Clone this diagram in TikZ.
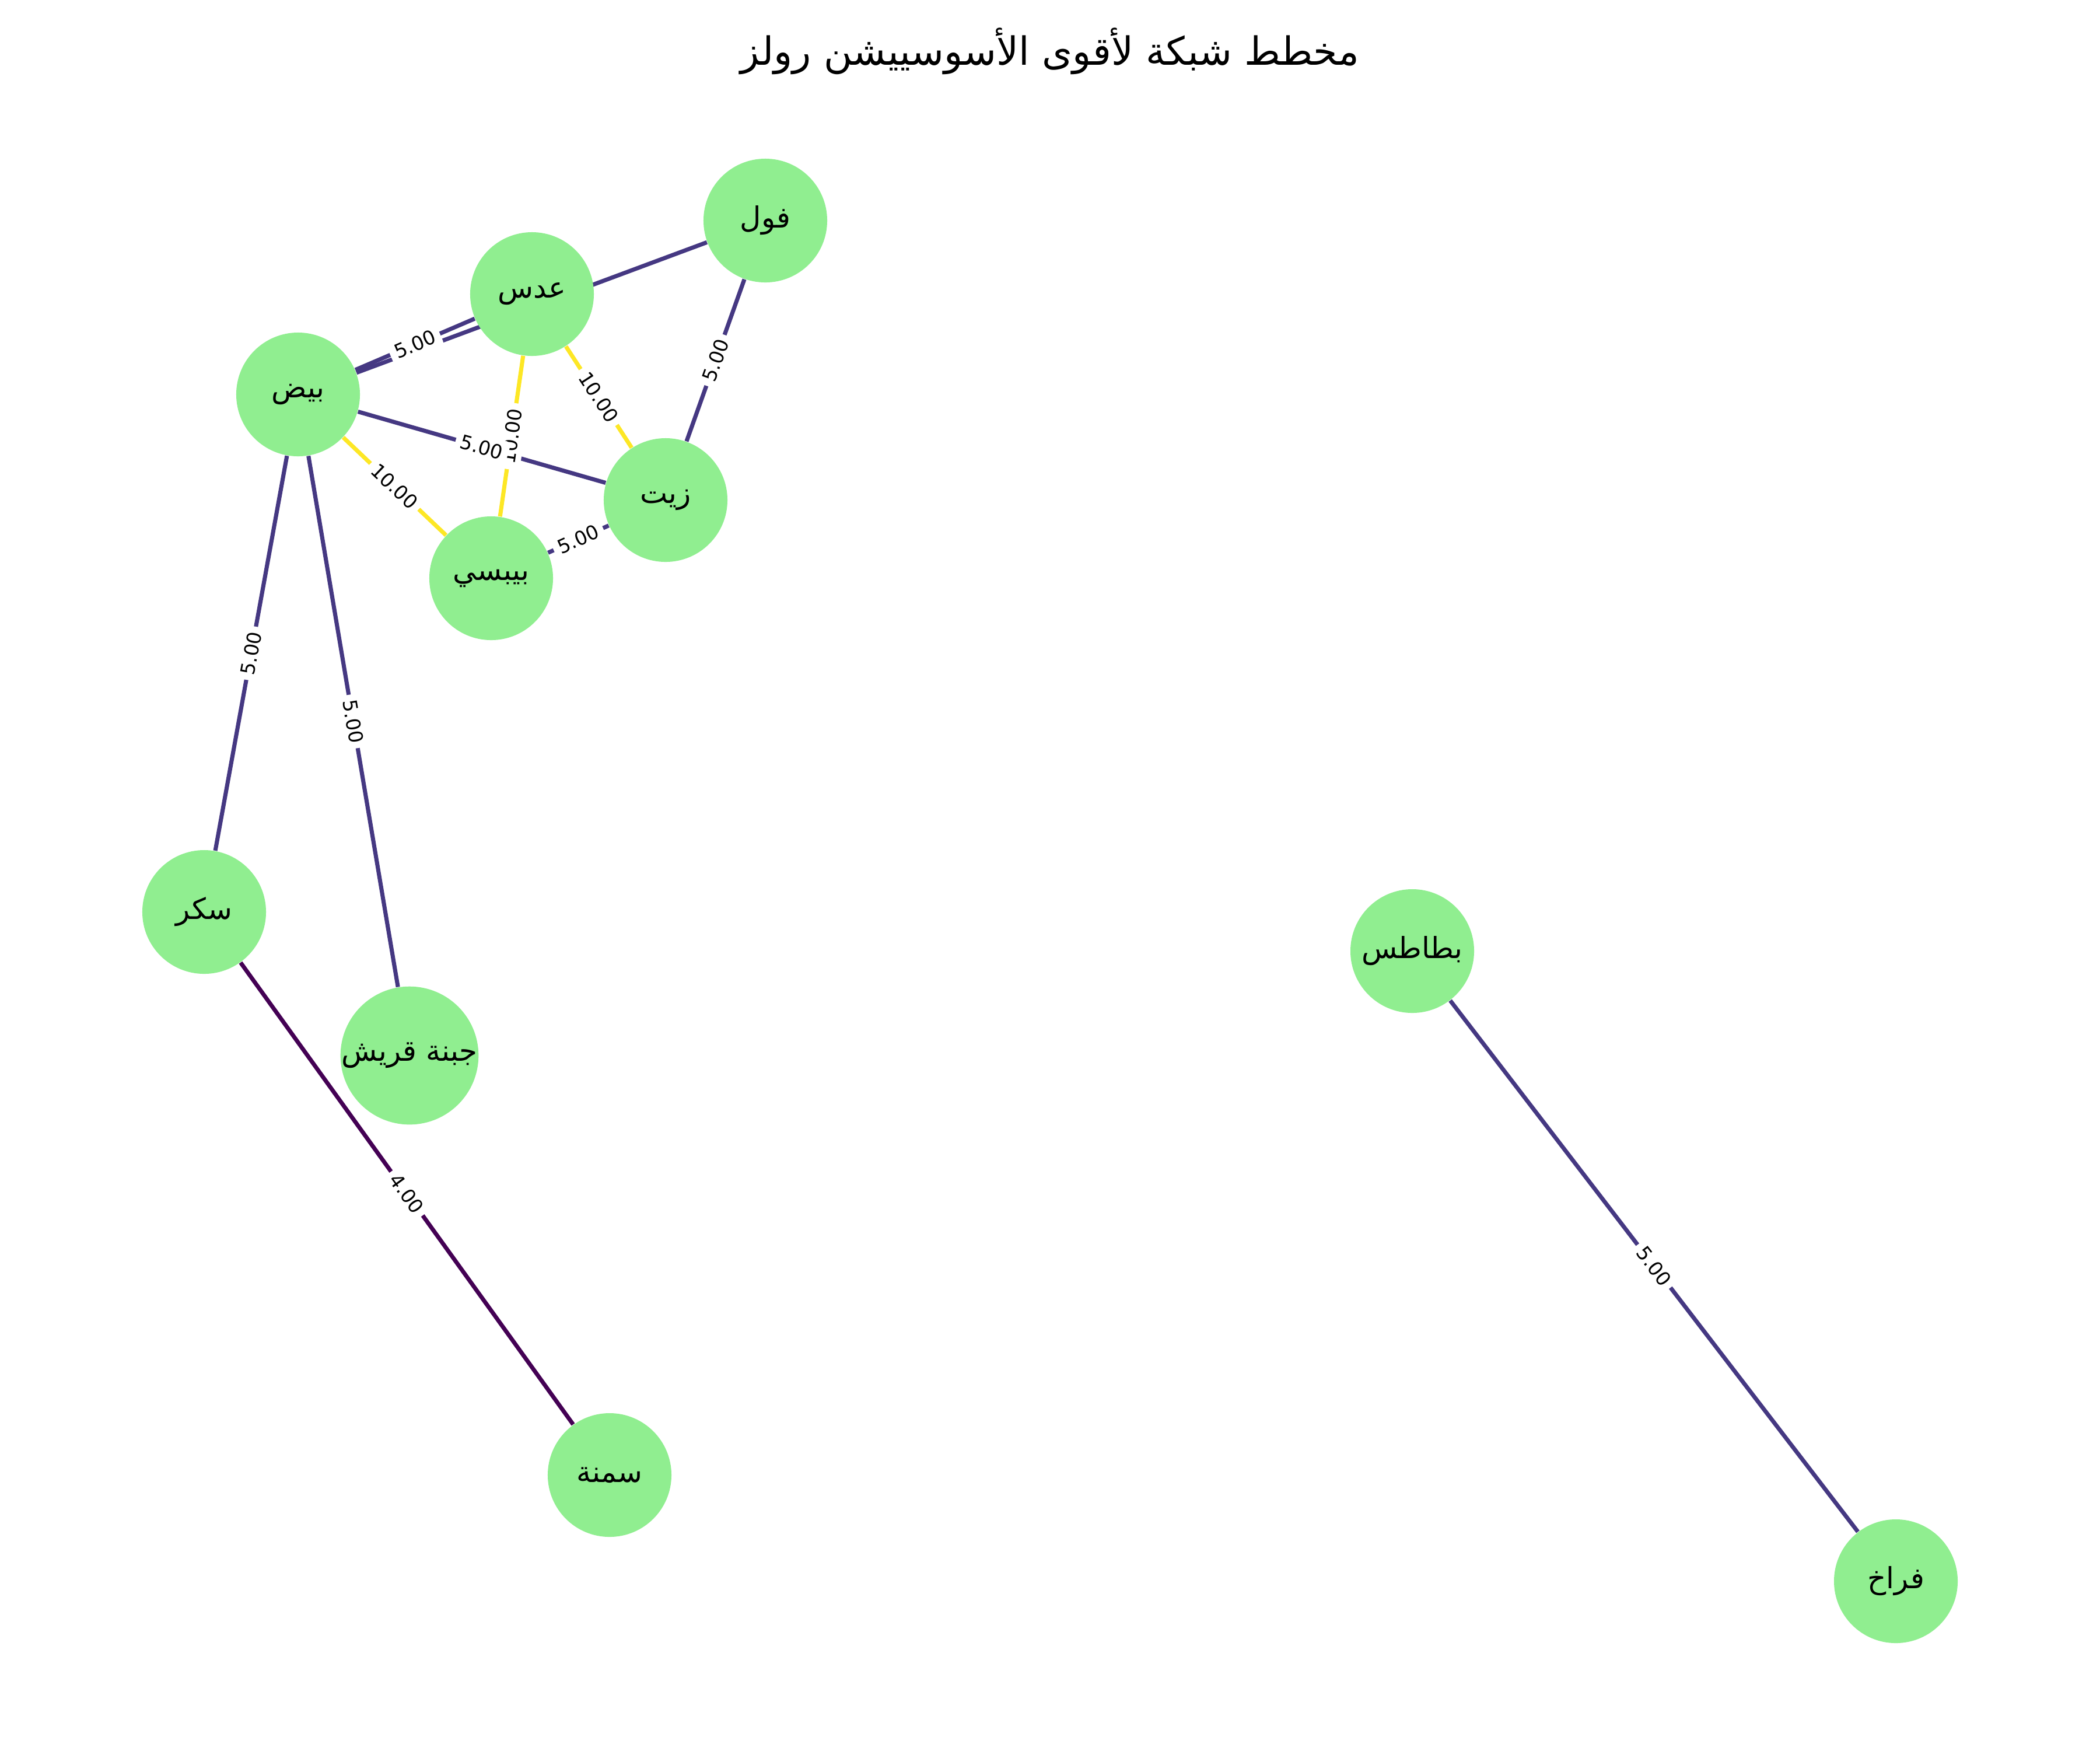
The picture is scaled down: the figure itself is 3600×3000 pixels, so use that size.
\documentclass[tikz,border=0pt]{standalone}
\usepackage{fontspec}
\setmainfont{DejaVu Sans}
\newfontfamily\arabicfont[Script=Arabic]{DejaVu Sans}
\TeXXeTstate=1
\definecolor{nodegreen}{HTML}{90EE90}
\definecolor{vblue}{HTML}{453882}
\definecolor{vyellow}{HTML}{FDE725}
\definecolor{vdark}{HTML}{440154}
\pgfdeclarelayer{edges}
\pgfdeclarelayer{labels}
\pgfsetlayers{edges,labels,main}
\begin{document}
\begin{tikzpicture}[x=0.24pt,y=-0.24pt,
  nd/.style={circle, fill=nodegreen, minimum size=50.9pt, inner sep=0pt,
    font=\arabicfont\fontsize{12}{14}\selectfont},
  ed/.style={line width=1.7pt},
  w5/.style={ed, draw=vblue},
  w10/.style={ed, draw=vyellow},
  w4/.style={ed, draw=vdark},
  lab/.style={fill=white, rounded corners=2pt, inner sep=2.2pt, sloped,
    font=\fontsize{8}{9}\selectfont, text=black}
]
\useasboundingbox (0,0) rectangle (3600,3000);

\node[font=\arabicfont\fontsize{16}{19}\selectfont] (title) at (1800,88) {\beginR مخطط شبكة لأقوى الأسوسييشن رولز\endR};

\node[nd] (fool)   at (1312,378)  {\beginR فول\endR};
\node[nd] (ads)    at (912,504)   {\beginR عدس\endR};
\node[nd] (beid)   at (511,676)   {\beginR بيض\endR};
\node[nd] (zeit)   at (1141,857)  {\beginR زيت\endR};
\node[nd] (pepsi)  at (842,991)   {\beginR بيبسي\endR};
\node[nd] (sukkar) at (350,1563)  {\beginR سكر\endR};
\node[nd] (gebna)  at (702,1809)  {\beginR جبنة قريش\endR};
\node[nd] (samna)  at (1045,2528) {\beginR سمنة\endR};
\node[nd] (batates) at (2421,1630) {\beginR بطاطس\endR};
\node[nd] (ferakh) at (3250,2710) {\beginR فراخ\endR};

\begin{pgfonlayer}{edges}
\draw[w5] (beid) -- (ads);
\draw[w5] (beid) -- (fool);
\draw[w5] (beid) -- (zeit);
\draw[w10] (beid) -- (pepsi);
\draw[w5] (beid) -- (sukkar);
\draw[w5] (beid) -- (gebna);
\draw[w10] (ads) -- (pepsi);
\draw[w10] (ads) -- (zeit);
\draw[w5] (fool) -- (zeit);
\draw[w5] (pepsi) -- (zeit);
\draw[w4] (sukkar) -- (samna);
\draw[w5] (batates) -- (ferakh);
\end{pgfonlayer}

\begin{pgfonlayer}{labels}
\path (beid) -- (ads) node[lab, midway] (l1) {5.00};
\path (beid) -- (pepsi) node[lab, midway] (l2) {10.00};
\path (beid) -- (sukkar) node[lab, midway] (l3) {5.00};
\path (beid) -- (gebna) node[lab, midway] (l4) {5.00};
\path (ads) -- (pepsi) node[lab, midway] (l5) {10.00};
\path (ads) -- (zeit) node[lab, midway] (l6) {10.00};
\path (beid) -- (zeit) node[lab, midway] (l7) {5.00};
\path (fool) -- (zeit) node[lab, midway] (l8) {5.00};
\path (pepsi) -- (zeit) node[lab, midway] (l9) {5.00};
\path (sukkar) -- (samna) node[lab, midway] (l10) {4.00};
\path (batates) -- (ferakh) node[lab, midway] (l11) {5.00};
\end{pgfonlayer}
\end{tikzpicture}
\end{document}
